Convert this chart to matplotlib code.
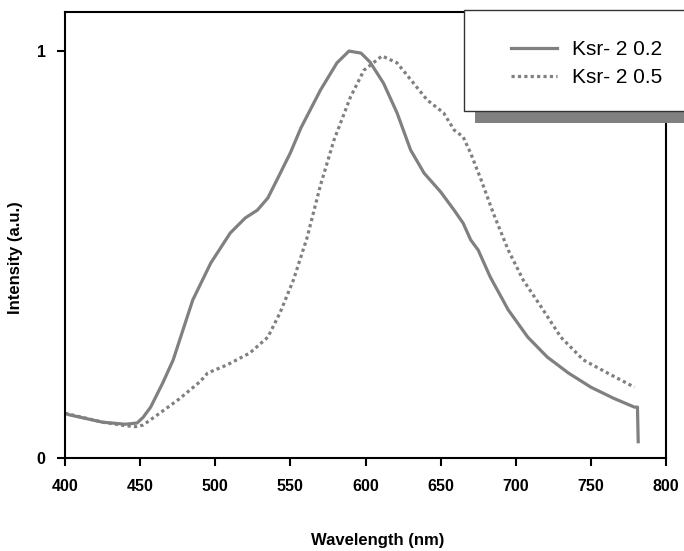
import matplotlib
matplotlib.use("Agg")
import matplotlib.pyplot as plt
from matplotlib.patches import Rectangle
from matplotlib.lines import Line2D

plt.rcParams['font.family'] = ['Liberation Sans', 'DejaVu Sans']

# Ksr-2 0.2 (solid)
wl_02 = [400, 403, 425, 440, 448, 452, 457, 465, 472, 485, 497, 510, 520, 528, 535,
         541, 550, 557, 570, 581, 589, 597, 603, 612, 621, 630, 639, 650, 659, 665,
         670, 675, 683, 695, 708, 721, 735, 750, 765, 779, 781, 781.5]
int_02 = [0.110, 0.106, 0.088, 0.083, 0.086, 0.100, 0.125, 0.184, 0.241, 0.388, 0.479,
          0.553, 0.590, 0.609, 0.639, 0.683, 0.750, 0.811, 0.904, 0.971, 1.000, 0.995,
          0.973, 0.921, 0.848, 0.757, 0.700, 0.654, 0.609, 0.577, 0.536, 0.511, 0.445,
          0.364, 0.297, 0.248, 0.209, 0.174, 0.147, 0.125, 0.125, 0.040]

# Ksr-2 0.5 (dotted)
wl_05 = [400, 425, 441, 447, 452, 463, 476, 490, 495, 508, 523, 535, 543, 552, 561,
         570, 579, 590, 599, 611, 621, 632, 641, 652, 659, 665, 670, 677, 685, 695,
         705, 717, 730, 745, 761, 779]
int_05 = [0.110, 0.088, 0.079, 0.077, 0.081, 0.110, 0.145, 0.188, 0.209, 0.229, 0.258,
          0.297, 0.356, 0.437, 0.540, 0.670, 0.781, 0.887, 0.953, 0.988, 0.971, 0.921,
          0.880, 0.848, 0.806, 0.789, 0.749, 0.683, 0.602, 0.511, 0.437, 0.371, 0.297,
          0.241, 0.209, 0.174]

labels = ["Ksr- 2 0.2", "Ksr- 2 0.5"]
x_ticks = [400, 450, 500, 550, 600, 650, 700, 750, 800]
y_ticks = [0, 1]

W, H = 684, 551
fig = plt.figure(figsize=(W / 100, H / 100), dpi=100)
ax = fig.add_axes([65 / W, 1 - 458 / H, (666 - 65) / W, (458 - 12) / H])

gray = '#808080'
ax.plot(wl_02, int_02, color=gray, lw=2.3, solid_joinstyle='round')
ax.plot(wl_05, int_05, color=gray, lw=2.3, linestyle=(0, (1, 1)), dash_capstyle='butt')

ax.set_xlim(400, 800)
ax.set_ylim(0, 1.096)
ax.set_xticks(x_ticks)
ax.set_yticks(y_ticks)
ax.set_xticklabels([str(t) for t in x_ticks], fontsize=11.5, fontweight='bold')
ax.set_yticklabels([str(t) for t in y_ticks], fontsize=11.5, fontweight='bold')
ax.tick_params(axis='both', direction='out', length=6, width=1.5, color='black')
ax.tick_params(axis='x', pad=9)
ax.tick_params(axis='y', pad=8)
for s in ax.spines.values():
    s.set_linewidth(1.5)
    s.set_color('black')

ax.set_xlabel("Wavelength (nm)", fontsize=12, fontweight='bold')
ax.set_ylabel("Intensity (a.u.)", fontsize=12, fontweight='bold')
ax.xaxis.set_label_coords(0.52, -0.168)
ax.yaxis.set_label_coords(-0.07, 0.45)

# Legend box with shadow (extends past figure edge)
shadow = Rectangle((475 / W, 1 - 123 / H), 0.5, 12 / H, transform=fig.transFigure,
                   facecolor='#808080', edgecolor='none', clip_on=False, zorder=4)
box = Rectangle((464 / W, 1 - 111 / H), 0.5, 101 / H, transform=fig.transFigure,
                facecolor='white', edgecolor='#333333', lw=1.0, clip_on=False, zorder=4.1)
ax.add_patch(shadow)
ax.add_patch(box)

handles = [Line2D([], [], color=gray, lw=2.3),
           Line2D([], [], color=gray, lw=2.3, linestyle=(0, (1, 1)), dash_capstyle='butt')]
leg = ax.legend(handles, labels, loc='center left',
                bbox_to_anchor=(511 / W, 1 - 63.5 / H), bbox_transform=fig.transFigure,
                frameon=False, borderpad=0, borderaxespad=0, fontsize=15,
                handlelength=2.2, handletextpad=0.75, labelspacing=0.45)
leg.set_zorder(5)

fig.savefig("out.png", dpi=100)
